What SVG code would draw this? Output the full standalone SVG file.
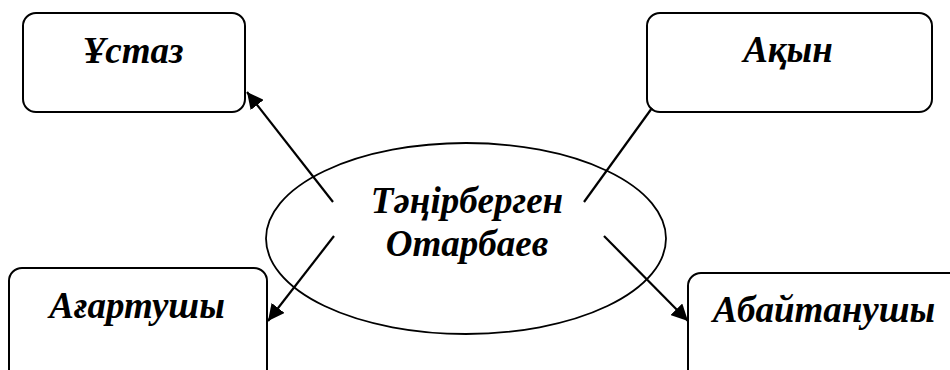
<svg xmlns="http://www.w3.org/2000/svg" width="950" height="370" viewBox="0 0 950 370">
<style>
.box{fill:#fff;stroke:#000;stroke-width:2}
.lbl{font-family:"Liberation Serif","Times New Roman",serif;font-weight:bold;font-style:italic;font-size:37px;fill:#000;text-anchor:middle}
.con{stroke:#000;stroke-width:2.2;fill:none}
</style>
<defs>
<marker id="ah" viewBox="0 0 10 10" refX="10" refY="5" markerWidth="7.5" markerHeight="7.5" markerUnits="strokeWidth" orient="auto">
<path d="M0,0 L10,5 L0,10 z" fill="#000"/>
</marker>
</defs>
<rect width="950" height="370" fill="#fff"/>
<g id="n-ustaz"><rect class="box" x="23" y="13" width="222" height="99" rx="13"/><text class="lbl" x="133" y="63">Ұстаз</text></g>
<g id="n-akyn"><rect class="box" x="647" y="13" width="285" height="99" rx="13"/><text class="lbl" x="788" y="62">Ақын</text></g>
<g id="n-agartushy"><rect class="box" x="9" y="268" width="258" height="120" rx="13"/><text class="lbl" x="137" y="318">Ағартушы</text></g>
<g id="n-abaitanushy"><rect class="box" x="688" y="273" width="280" height="120" rx="13"/><text class="lbl" x="824" y="322">Абайтанушы</text></g>
<g id="n-center"><ellipse cx="466" cy="238.5" rx="200" ry="95.5" fill="none" stroke="#000" stroke-width="1.8"/><text class="lbl" x="467" y="213">Тәңірберген</text><text class="lbl" x="467" y="256">Отарбаев</text></g>
<g id="connectors">
<line class="con" x1="333" y1="202" x2="247" y2="92" marker-end="url(#ah)"/>
<line class="con" x1="584" y1="202" x2="652" y2="108"/>
<line class="con" x1="334" y1="236" x2="268" y2="321" marker-end="url(#ah)"/>
<line class="con" x1="604" y1="236" x2="688" y2="321" marker-end="url(#ah)"/>
</g>
</svg>
